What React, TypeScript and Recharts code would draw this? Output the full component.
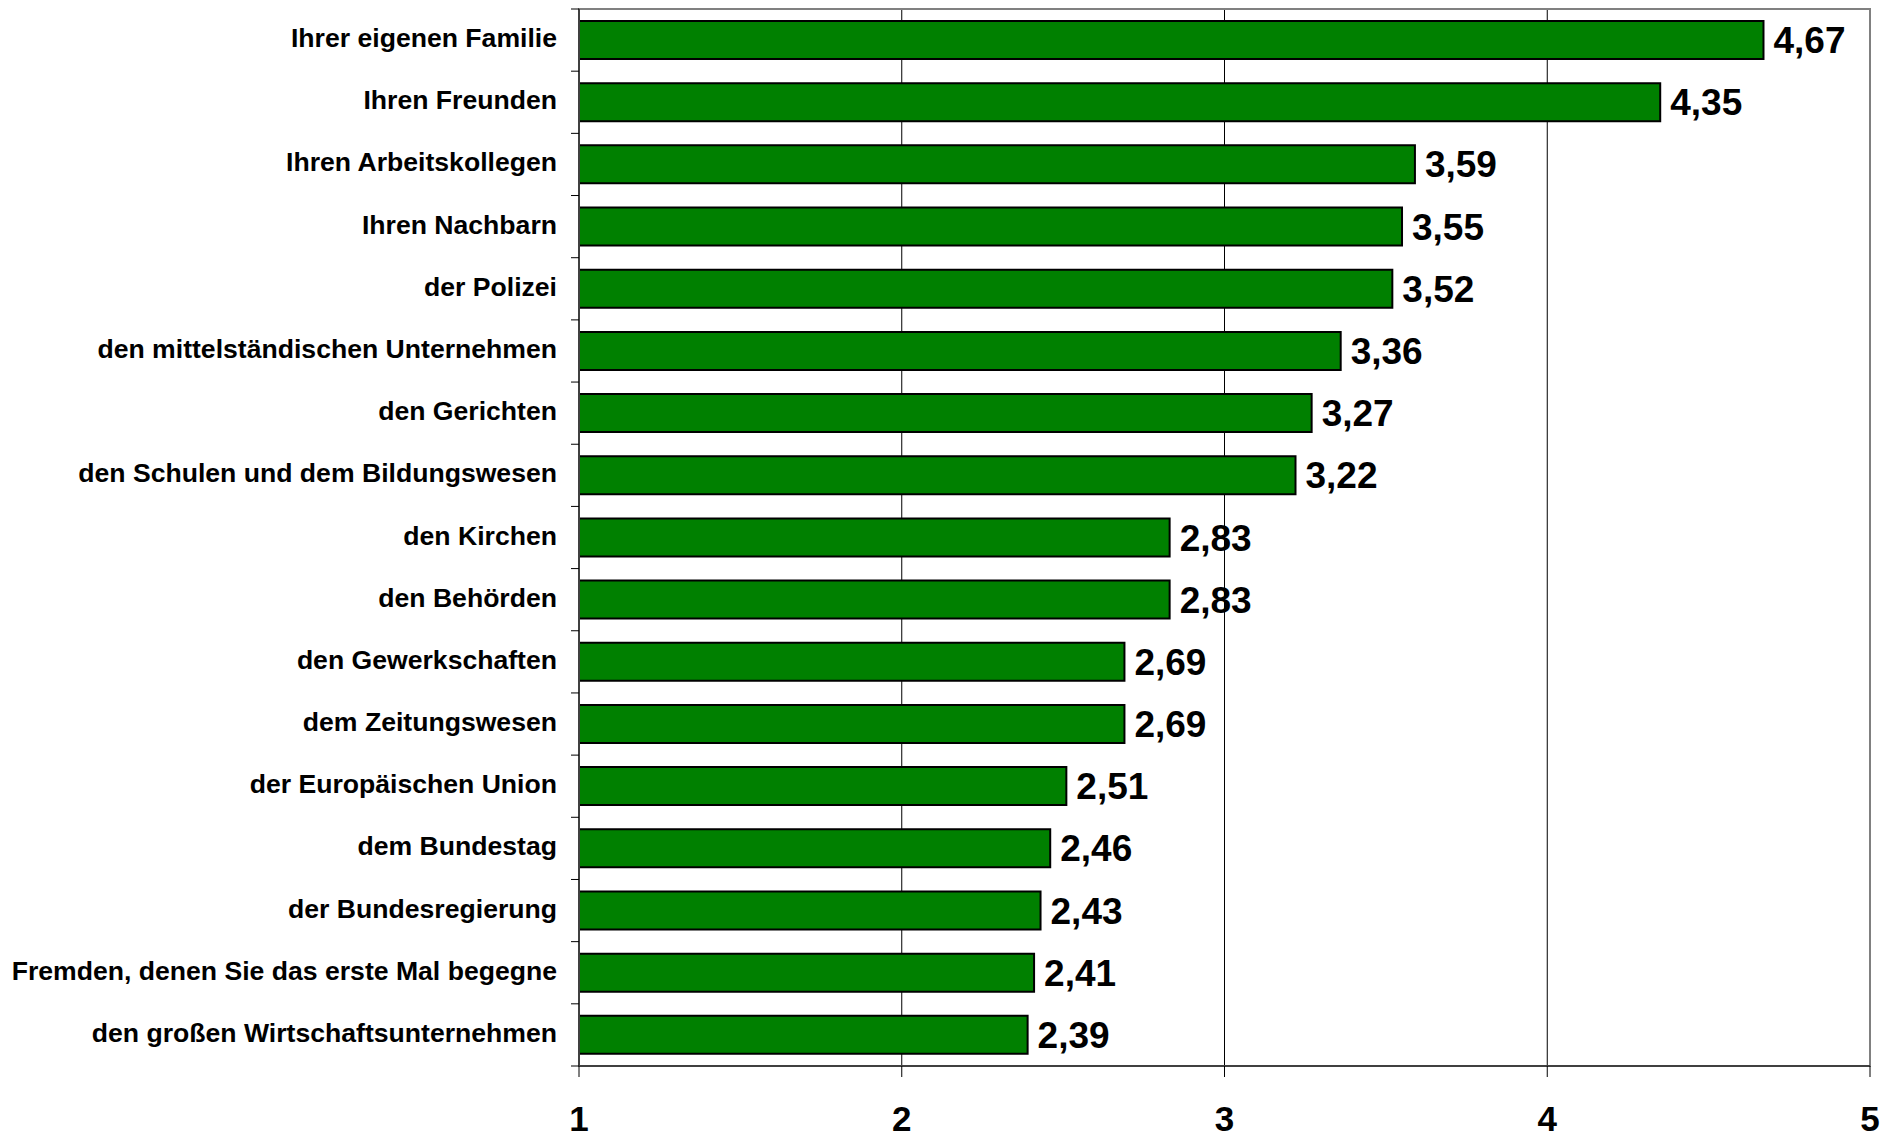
import { BarChart, Bar, XAxis, YAxis, CartesianGrid, LabelList, ReferenceArea } from 'recharts'

const categories = [
  'Ihrer eigenen Familie',
  'Ihren Freunden',
  'Ihren Arbeitskollegen',
  'Ihren Nachbarn',
  'der Polizei',
  'den mittelständischen Unternehmen',
  'den Gerichten',
  'den Schulen und dem Bildungswesen',
  'den Kirchen',
  'den Behörden',
  'den Gewerkschaften',
  'dem Zeitungswesen',
  'der Europäischen Union',
  'dem Bundestag',
  'der Bundesregierung',
  'Fremden, denen Sie das erste Mal begegne',
  'den großen Wirtschaftsunternehmen'
]

const values = [4.67, 4.35, 3.59, 3.55, 3.52, 3.36, 3.27, 3.22, 2.83, 2.83, 2.69, 2.69, 2.51, 2.46, 2.43, 2.41, 2.39]

const xTicks = [1, 2, 3, 4, 5]
const gridTicks = [2, 3, 4]

const data = categories.map((name, i) => ({ name, value: values[i] }))

const W = 1892
const H = 1136
const TOP = 9
const BOTTOM = 70
const BAND = (H - TOP - BOTTOM) / categories.length
const FONT = '"Liberation Sans", Arial, Helvetica, sans-serif'

const CategoryTick = ({ x, y, payload, index }: any) => {
  const axisX = x + 22
  return (
    <g>
      <line x1={axisX - 8} x2={axisX} y1={y - BAND / 2} y2={y - BAND / 2} stroke="#000" />
      {index === categories.length - 1 && (
        <line x1={axisX - 8} x2={axisX} y1={y + BAND / 2} y2={y + BAND / 2} stroke="#000" />
      )}
      <text
        x={x}
        y={y - 2}
        textAnchor="end"
        dominantBaseline="central"
        fontSize={26.6}
        fontWeight="bold"
        fontFamily={FONT}
        fill="#000"
      >
        {payload.value}
      </text>
    </g>
  )
}

export default function App() {
  return (
    <div style={{ position: 'absolute', left: 0, top: 0, background: '#fff' }}>
      <BarChart
        width={W}
        height={H}
        data={data}
        layout="vertical"
        margin={{ top: TOP, right: 22, bottom: 0, left: 0 }}
        barSize={38}
      >
        <ReferenceArea x1={1} x2={5} fill="none" stroke="#808080" strokeWidth={2} ifOverflow="extendDomain" />
        <CartesianGrid horizontal={false} verticalValues={gridTicks} stroke="#000" strokeWidth={1} />
        <XAxis
          type="number"
          domain={[1, 5]}
          ticks={xTicks}
          allowDataOverflow
          height={BOTTOM}
          tickSize={11}
          tickMargin={29}
          axisLine={{ stroke: '#404040', strokeWidth: 2 }}
          tickLine={{ stroke: '#000' }}
          tick={{ fontSize: 35, fontWeight: 'bold', fill: '#000', fontFamily: FONT }}
        />
        <YAxis
          type="category"
          dataKey="name"
          width={579}
          tickSize={8}
          tickMargin={14}
          interval={0}
          tickLine={false}
          axisLine={{ stroke: '#404040', strokeWidth: 2 }}
          tick={<CategoryTick />}
        />
        <Bar dataKey="value" fill="#008000" stroke="#000" strokeWidth={2} isAnimationActive={false}>
          <LabelList
            dataKey="value"
            position="right"
            offset={10}
            formatter={(v: any) => Number(v).toFixed(2).replace('.', ',')}
            style={{ fontSize: 37, fontWeight: 'bold', fill: '#000', fontFamily: FONT }}
          />
        </Bar>
      </BarChart>
    </div>
  )
}
